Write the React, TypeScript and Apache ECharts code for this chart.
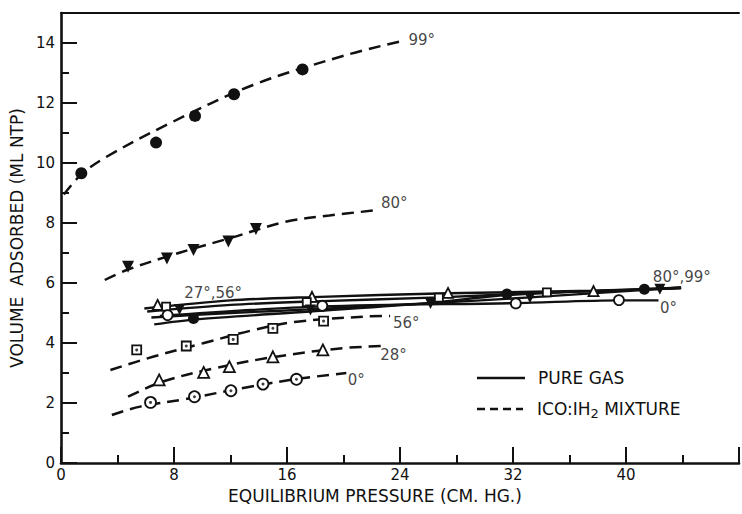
import React, { useEffect, useRef } from "react";
import * as echarts from "echarts";

// ---- axes ----
const X_MAX = 48;
const Y_MAX = 15;
const xTickLabels = [0, 8, 16, 24, 32, 40];
const yTickLabels = [0, 2, 4, 6, 8, 10, 12, 14];

// ---- ICO:IH2 mixture (dashed curves + points) ----
const mix99Pts = [[1.44, 9.66], [6.73, 10.68], [9.49, 11.57], [12.25, 12.29], [17.1, 13.12]];
const mix99Curve = [[0.2, 8.95], [1.44, 9.62], [3.2, 10.2], [7.6, 11.3], [13.6, 12.6], [20.2, 13.6], [24.0, 14.05]];
const mix80Pts = [[4.75, 6.54], [7.5, 6.82], [9.38, 7.1], [11.85, 7.38], [13.8, 7.8]];
const mix80Curve = [[3.1, 6.1], [4.75, 6.45], [7.5, 6.88], [9.4, 7.15], [12.0, 7.5], [15.9, 8.04], [19.0, 8.25], [22.4, 8.43]];
const mix56Pts = [[5.36, 3.77], [8.87, 3.9], [12.19, 4.12], [15.0, 4.49], [18.59, 4.73]];
const mix56Curve = [[3.5, 3.1], [6.5, 3.54], [10.05, 3.99], [13.6, 4.43], [16.7, 4.71], [21.5, 4.88], [23.3, 4.9]];
const mix28Pts = [[6.95, 2.77], [10.1, 3.02], [11.92, 3.21], [15.0, 3.54], [18.54, 3.77]];
const mix28Curve = [[4.75, 2.21], [7.17, 2.71], [10.9, 3.16], [14.9, 3.52], [19.75, 3.82], [22.85, 3.9]];
const mix0Pts = [[6.34, 2.02], [9.45, 2.21], [12.03, 2.41], [14.3, 2.63], [16.67, 2.79]];
const mix0Curve = [[3.6, 1.6], [5.6, 1.88], [8.7, 2.12], [13.1, 2.52], [16.7, 2.8], [20.2, 3.0]];

// ---- pure gas (solid curves + points) ----
const pure27Pts = [[6.84, 5.27], [17.77, 5.54], [27.4, 5.67], [37.7, 5.73]];
const pure56Pts = [[7.44, 5.21], [17.4, 5.36], [26.75, 5.51], [34.4, 5.69]];
const pure80Pts = [[8.39, 5.12], [17.66, 5.1], [26.16, 5.32], [33.2, 5.51], [42.4, 5.79]];
const pure99Pts = [[9.38, 4.82], [31.57, 5.63], [41.3, 5.79]];
const pure0Pts = [[7.55, 4.93], [18.5, 5.24], [32.2, 5.32], [39.5, 5.43]];
const pure27Line = [[5.9, 5.15], [12, 5.42], [17.8, 5.53], [27.4, 5.66], [37.7, 5.74], [43.9, 5.84]];
const pure56Line = [[6.1, 5.05], [12, 5.27], [17.4, 5.38], [26.8, 5.52], [34.4, 5.68], [43.9, 5.82]];
const pure80Line = [[6.4, 4.85], [12, 5.0], [17.6, 5.12], [26.2, 5.33], [33.2, 5.52], [43.9, 5.85]];
const pure99Line = [[6.6, 4.62], [9.4, 4.78], [17.6, 5.05], [26, 5.33], [31.6, 5.6], [41.3, 5.79], [43.9, 5.84]];
const pure0Line = [[7.0, 4.9], [18.5, 5.22], [32.2, 5.33], [39.5, 5.42], [42.3, 5.42]];

// ---- curve annotations [x, y, text] ----
const annotations: [number, number, string][] = [
  [24.6, 14.1, "99°"],
  [22.65, 8.67, "80°"],
  [8.72, 5.66, "27°,56°"],
  [23.5, 4.68, "56°"],
  [22.6, 3.6, "28°"],
  [20.3, 2.77, "0°"],
  [41.9, 6.21, "80°,99°"],
  [42.4, 5.17, "0°"],
];

const legendItems = ["PURE GAS", "ICO:IH{sub|2} MIXTURE"];

export default function App() {
  const ref = useRef<HTMLDivElement>(null);
  useEffect(() => {
    document.body.style.margin = "0";
    const chart = echarts.init(ref.current!, null, { renderer: "svg" });
    const F = "DejaVu Sans";
    const K = "#111";

    const dashed = (name: string, data: number[][]) => ({
      type: "line", name, data, smooth: 0.35, symbol: "none", silent: true, z: 2,
      lineStyle: { color: K, width: 2.5, type: [12, 7] },
    });
    const solid = (name: string, data: number[][]) => ({
      type: "line", name, data, smooth: 0.3, symbol: "none", silent: true, z: 2,
      lineStyle: { color: K, width: 2.4 },
    });
    const pts = (name: string, data: number[][], symbol: string, size: number, filled: boolean, rot = 0) => ({
      type: "scatter", name, data, symbol, symbolSize: size, symbolRotate: rot, z: 5, silent: true,
      itemStyle: { color: filled ? K : "#fff", borderColor: K, borderWidth: filled ? 0 : 1.8, opacity: 1 },
    });
    const dots = (name: string, data: number[][]) => ({
      type: "scatter", name, data, symbol: "circle", symbolSize: 3, z: 6, silent: true,
      itemStyle: { color: K },
    });

    const axisBase = { min: 0, splitLine: { show: false } };

    chart.setOption({
      animation: false,
      grid: { left: 55, top: 13, width: 725, height: 450 },
      xAxis: [
        {
          ...axisBase, type: "value", max: X_MAX, interval: 8, position: "bottom",
          axisLine: { show: true, lineStyle: { color: K, width: 2.6 } },
          axisTick: { show: true, inside: true, length: 16, lineStyle: { color: K, width: 2 } },
          axisLabel: {
            show: true, margin: 4, color: K, fontSize: 15, fontFamily: F,
            formatter: (v: number) => (xTickLabels.includes(v) ? String(v) : ""),
          },
          name: "EQUILIBRIUM PRESSURE (CM. HG.)", nameLocation: "middle", nameGap: 24,
          nameTextStyle: { color: K, fontSize: 17, fontFamily: F, padding: [0, 50, 0, 0] },
        },
        {
          ...axisBase, type: "value", max: X_MAX, interval: 4, position: "bottom",
          axisLine: { show: false },
          axisTick: { show: true, inside: true, length: 8, lineStyle: { color: K, width: 2 } },
          axisLabel: { show: false },
        },
        {
          ...axisBase, type: "value", max: X_MAX, interval: 8, position: "top",
          axisLine: { show: true, lineStyle: { color: K, width: 2 } },
          axisTick: { show: false }, axisLabel: { show: false },
        },
      ],
      yAxis: [
        {
          ...axisBase, type: "value", max: Y_MAX, interval: 2, position: "left",
          axisLine: { show: true, lineStyle: { color: K, width: 2.6 } },
          axisTick: { show: true, inside: true, length: 16, lineStyle: { color: K, width: 2 } },
          axisLabel: {
            show: true, margin: 6, color: K, fontSize: 15, fontFamily: F,
            formatter: (v: number) => (yTickLabels.includes(v) ? String(v) : ""),
          },
          name: "VOLUME  ADSORBED (ML NTP)", nameLocation: "middle", nameGap: 28, nameRotate: 90,
          nameTextStyle: { color: K, fontSize: 17, fontFamily: F },
        },
        {
          ...axisBase, type: "value", max: Y_MAX, interval: 1, position: "left",
          axisLine: { show: false },
          axisTick: { show: true, inside: true, length: 8, lineStyle: { color: K, width: 2 } },
          axisLabel: { show: false },
        },
      ],
      series: [
        dashed("99° mixture", mix99Curve),
        dashed("80° mixture", mix80Curve),
        dashed("56° mixture", mix56Curve),
        dashed("28° mixture", mix28Curve),
        dashed("0° mixture", mix0Curve),
        solid("27° pure", pure27Line),
        solid("56° pure", pure56Line),
        solid("80° pure", pure80Line),
        solid("99° pure", pure99Line),
        solid("0° pure", pure0Line),
        pts("99° mixture pts", mix99Pts, "circle", 12, true),
        pts("80° mixture pts", mix80Pts, "triangle", 12, true, 180),
        pts("56° mixture pts", mix56Pts, "rect", 9, false),
        dots("56° mixture dots", mix56Pts),
        pts("28° mixture pts", mix28Pts, "triangle", 11, false),
        pts("0° mixture pts", mix0Pts, "circle", 11, false),
        dots("0° mixture dots", mix0Pts),
        pts("27° pure pts", pure27Pts, "triangle", 10, false),
        pts("56° pure pts", pure56Pts, "rect", 8, false),
        pts("80° pure pts", pure80Pts, "triangle", 11, true, 180),
        pts("99° pure pts", pure99Pts, "circle", 11, true),
        pts("0° pure pts", pure0Pts, "circle", 10, false),
        {
          type: "scatter", name: "labels", silent: true, z: 7,
          data: annotations.map((a) => ({ value: [a[0], a[1]], name: a[2] })),
          symbolSize: 1, itemStyle: { color: "transparent" },
          label: {
            show: true, position: "inside", align: "left", verticalAlign: "middle",
            formatter: "{b}", color: K, fontSize: 15, fontFamily: F,
          },
        },
      ],
      graphic: [
        { type: "line", shape: { x1: 477, y1: 378, x2: 525, y2: 378 }, style: { stroke: K, lineWidth: 2.5 } },
        { type: "text", x: 538, y: 378, style: { text: legendItems[0], fill: K, font: `17px "${F}"`, verticalAlign: "middle" } },
        { type: "line", shape: { x1: 477, y1: 409, x2: 523, y2: 409 }, style: { stroke: K, lineWidth: 2.5, lineDash: [8, 5] } },
        {
          type: "text", x: 537, y: 409,
          style: {
            text: legendItems[1], fill: K, font: `17px "${F}"`, verticalAlign: "middle",
            rich: { sub: { fontSize: 13, fontFamily: F, padding: [9, 0, 0, 0], fill: K } },
          },
        },
      ],
    });
    return () => chart.dispose();
  }, []);
  return <div ref={ref} style={{ width: 742, height: 514 }} />;
}
